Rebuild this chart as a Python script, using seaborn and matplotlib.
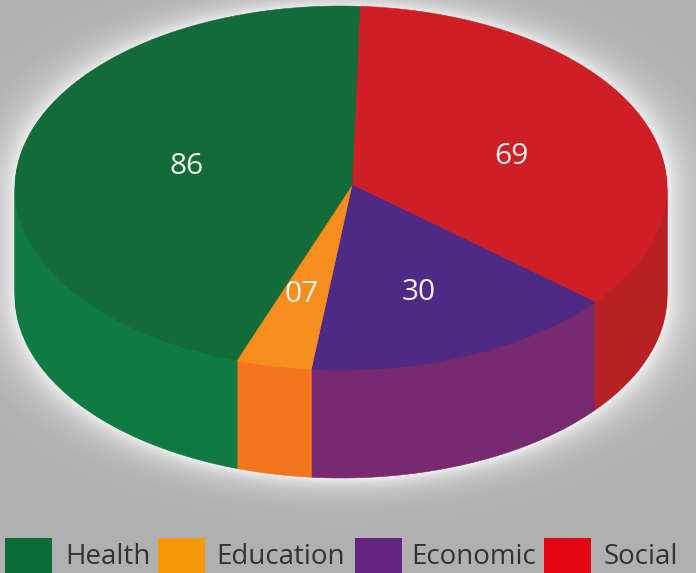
import matplotlib
matplotlib.use('Agg')
import matplotlib.pyplot as plt
from matplotlib.patches import PathPatch, Rectangle
from matplotlib.path import Path
from matplotlib.transforms import Affine2D
import numpy as np
import seaborn as sns

categories = ['Social', 'Economic', 'Education', 'Health']
values = [69, 30, 7, 86]
value_labels = ['69', '30', '07', '86']
legend_order = ['Health', 'Education', 'Economic', 'Social']

top_colors = sns.color_palette(['#cf1f26', '#4f2a85', '#f68e1e', '#136b3a'])
side_colors = sns.color_palette(['#b92023', '#78296f', '#f3751f', '#0f7a41'])
legend_colors = {'Health': '#0b6b38', 'Education': '#f59a0a',
                 'Economic': '#65247f', 'Social': '#e30613'}

sns.set_theme(style='white')
plt.rcParams['font.family'] = ['Open Sans', 'DejaVu Sans']

W, H = 696, 573
CX, CY, A, B = 341, 188, 326, 182
APEX = (352, 185)
DEPTH = 108


def draw_pie(ax, colors, dy):
    # angles come from ax.pie, rays start at the off-centre apex (perspective)
    wedges, _ = ax.pie(values, startangle=88.6, counterclock=False, radius=1)
    s = np.array([(APEX[0] - CX) / A, -(APEX[1] - CY) / B])
    trans = Affine2D().scale(A, -B).translate(CX, CY + dy) + ax.transData
    for w, c in zip(wedges, colors):
        th = np.radians(np.linspace(w.theta1, w.theta2, 80))
        d = np.column_stack([np.cos(th), np.sin(th)])
        b = d @ s
        u = -b + np.sqrt(b ** 2 - (s @ s - 1))
        verts = np.vstack([s, s + d * u[:, None], s])
        w.remove()
        ax.add_patch(PathPatch(Path(verts, closed=True), fc=c, ec=c, lw=0.4,
                               transform=trans))


def background():
    # grey with a soft light halo hugging the silhouette of the disc
    yy, xx = np.mgrid[0:H, 0:W]
    t = np.clip(yy - CY, 0, DEPTH)
    r = np.hypot((xx - CX) / A, (yy - CY - t) / B)
    d = np.clip((r - 1) * 0.5 * (A + B), 0, None)
    level = 0.69 + 0.24 * np.exp(-d / 17.0)
    return level


fig = plt.figure(figsize=(W / 100, H / 100), dpi=100)
ax = fig.add_axes([0, 0, 1, 1])
ax.imshow(background(), cmap='gray', vmin=0, vmax=1, extent=(0, W, H, 0),
          interpolation='bilinear', zorder=0)

for off in range(DEPTH, 0, -2):
    draw_pie(ax, side_colors, off)
draw_pie(ax, top_colors, 0)

ax.set_aspect('auto')
ax.set_xlim(0, W)
ax.set_ylim(H, 0)
ax.axis('off')

label_pos = {'Social': (511, 157), 'Economic': (419, 293),
             'Education': (302, 295), 'Health': (187, 167)}
for cat, lab in zip(categories, value_labels):
    x, y = label_pos[cat]
    ax.text(x, y, lab, color='#f4f0ee', fontsize=21.5, ha='center', va='center')

# legend is unevenly spaced in the source, so it is laid out by hand
square_x = {'Health': 5, 'Education': 158, 'Economic': 355, 'Social': 544}
text_x = {'Health': 65, 'Education': 216, 'Economic': 411, 'Social': 604}
for name in legend_order:
    ax.add_patch(Rectangle((square_x[name], 538), 47, 35, fc=legend_colors[name],
                           ec='none', clip_on=True))
    ax.text(text_x[name], 557, name, color='#333333', fontsize=20,
            ha='left', va='center')

fig.savefig('out.png', dpi=100)
